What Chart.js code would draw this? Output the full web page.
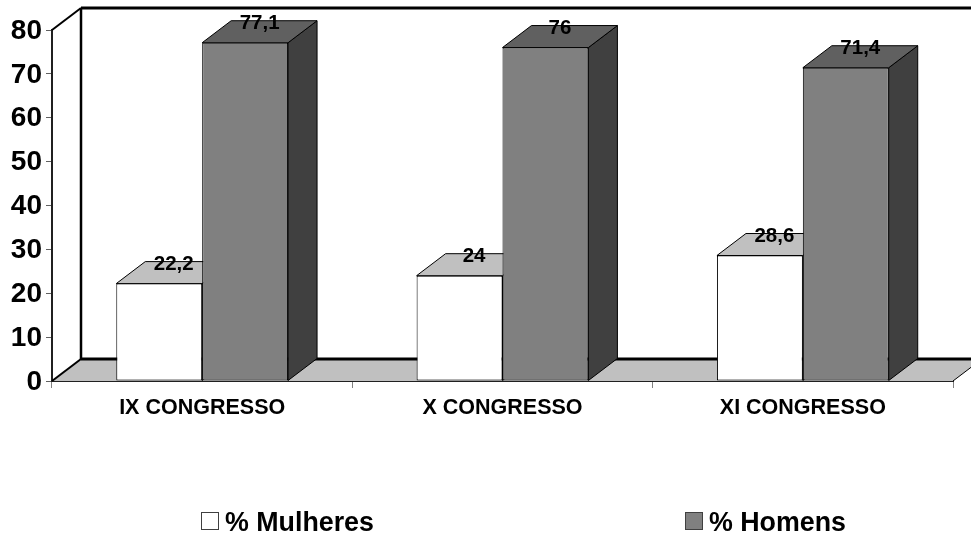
<!DOCTYPE html>
<html>
<head>
<meta charset="utf-8">
<style>
  html, body { margin: 0; padding: 0; background: #fff; }
  #wrap { width: 971px; height: 533px; overflow: hidden; }
</style>
</head>
<body>
<div id="wrap"><canvas id="chart" width="971" height="533"></canvas></div>
<script src="https://cdn.jsdelivr.net/npm/chart.js@4/dist/chart.umd.min.js"></script>
<script>
const categories = ['IX CONGRESSO', 'X CONGRESSO', 'XI CONGRESSO'];
const mulheres = [22.2, 24, 28.6];
const homens = [77.1, 76, 71.4];
const seriesNames = ['% Mulheres', '% Homens'];

const FONT = '"Liberation Sans", Arial, sans-serif';
const DEPTH_X = 29;
const DEPTH_Y = 22;
const faceColors = [
    { top: '#c0c0c0', side: '#a0a0a0' },
    { top: '#606060', side: '#404040' }
];

function poly(ctx, pts, fill, stroke, width) {
    ctx.beginPath();
    pts.forEach((p, i) => i ? ctx.lineTo(p[0], p[1]) : ctx.moveTo(p[0], p[1]));
    ctx.closePath();
    if (fill) { ctx.fillStyle = fill; ctx.fill(); }
    if (stroke) { ctx.strokeStyle = stroke; ctx.lineWidth = width; ctx.stroke(); }
}

function line(ctx, x1, y1, x2, y2, color, width) {
    ctx.beginPath();
    ctx.moveTo(x1, y1);
    ctx.lineTo(x2, y2);
    ctx.strokeStyle = color;
    ctx.lineWidth = width;
    ctx.stroke();
}

// floor, walls and the top/side faces of the boxes
const box3d = {
    id: 'box3d',
    beforeDatasetsDraw(chart) {
        const { ctx, chartArea: a } = chart;
        ctx.save();
        poly(ctx, [[a.left, a.bottom], [a.right, a.bottom], [a.right + DEPTH_X, a.bottom - DEPTH_Y], [a.left + DEPTH_X, a.bottom - DEPTH_Y]], '#c0c0c0');
        line(ctx, a.left, a.top, a.left + DEPTH_X, a.top - DEPTH_Y, '#000', 2);
        line(ctx, a.left, a.bottom, a.left + DEPTH_X, a.bottom - DEPTH_Y, '#000', 2);
        line(ctx, a.right, a.bottom, a.right + DEPTH_X, a.bottom - DEPTH_Y, '#000', 1);
        line(ctx, a.left + DEPTH_X, a.top - DEPTH_Y, a.left + DEPTH_X, a.bottom - DEPTH_Y, '#000', 2.5);
        line(ctx, a.left + DEPTH_X, a.top - DEPTH_Y, a.right + DEPTH_X, a.top - DEPTH_Y, '#000', 3);
        line(ctx, a.left + DEPTH_X, a.bottom - DEPTH_Y, a.right + DEPTH_X, a.bottom - DEPTH_Y, '#000', 3);
        chart.data.datasets.forEach((ds, d) => {
            chart.getDatasetMeta(d).data.forEach(bar => {
                const p = bar.getProps(['x', 'y', 'base', 'width'], true);
                const l = p.x - p.width / 2, r = p.x + p.width / 2;
                poly(ctx, [[r, p.y], [r + DEPTH_X, p.y - DEPTH_Y], [r + DEPTH_X, p.base - DEPTH_Y], [r, p.base]], faceColors[d].side, '#000', 1);
                poly(ctx, [[l, p.y], [l + DEPTH_X, p.y - DEPTH_Y], [r + DEPTH_X, p.y - DEPTH_Y], [r, p.y]], faceColors[d].top, '#000', 1);
            });
        });
        ctx.restore();
    },
    afterDatasetsDraw(chart) {
        const { ctx } = chart;
        ctx.save();
        ctx.font = 'bold 20.5px ' + FONT;
        ctx.fillStyle = '#000';
        ctx.textAlign = 'center';
        ctx.textBaseline = 'middle';
        chart.data.datasets.forEach((ds, d) => {
            chart.getDatasetMeta(d).data.forEach((bar, i) => {
                const label = String(ds.data[i]).replace('.', ',');
                ctx.fillText(label, bar.x + DEPTH_X / 2, bar.y - DEPTH_Y + 2.5);
            });
        });
        ctx.restore();
    },
    afterDraw(chart) {
        // legend sits off-centre with a wide gap, the built-in one can't do that
        const { ctx } = chart;
        const boxX = [201, 685];
        ctx.save();
        ctx.font = 'bold 26.8px ' + FONT;
        ctx.textAlign = 'left';
        ctx.textBaseline = 'alphabetic';
        chart.data.datasets.forEach((ds, d) => {
            ctx.fillStyle = ds.backgroundColor;
            ctx.strokeStyle = '#404040';
            ctx.lineWidth = 1;
            ctx.fillRect(boxX[d] + 0.5, 512.5, 17, 17);
            ctx.strokeRect(boxX[d] + 0.5, 512.5, 17, 17);
            ctx.fillStyle = '#000';
            ctx.fillText(ds.label, boxX[d] + 24, 530.5);
        });
        ctx.restore();
    }
};

new Chart(document.getElementById('chart'), {
    type: 'bar',
    data: {
        labels: categories,
        datasets: [
            { label: seriesNames[0], data: mulheres, backgroundColor: '#ffffff', borderColor: '#000', borderWidth: 1, borderSkipped: false },
            { label: seriesNames[1], data: homens, backgroundColor: '#808080', borderColor: '#000', borderWidth: 1, borderSkipped: false }
        ]
    },
    options: {
        responsive: false,
        animation: false,
        layout: { padding: { top: 30, right: 18, bottom: 100, left: 0 } },
        plugins: { legend: { display: false }, tooltip: { enabled: false } },
        datasets: { bar: { categoryPercentage: 0.572, barPercentage: 1 } },
        scales: {
            x: {
                afterFit(scale) { scale.height = 52; },
                grid: { drawOnChartArea: false, color: '#808080', lineWidth: 1, tickLength: 7 },
                border: { color: '#202020', width: 2 },
                ticks: { color: '#000', padding: 7, maxRotation: 0, font: { family: FONT, weight: 'bold', size: 21.5 } }
            },
            y: {
                min: 0,
                max: 80,
                afterFit(scale) { scale.width = 52; },
                grid: { drawOnChartArea: false, color: '#606060', lineWidth: 1, tickLength: 6 },
                border: { color: '#202020', width: 2 },
                ticks: { stepSize: 10, color: '#000', padding: 4, labelOffset: 1, font: { family: FONT, weight: 'bold', size: 28 } }
            }
        }
    },
    plugins: [box3d]
});
</script>
</body>
</html>
